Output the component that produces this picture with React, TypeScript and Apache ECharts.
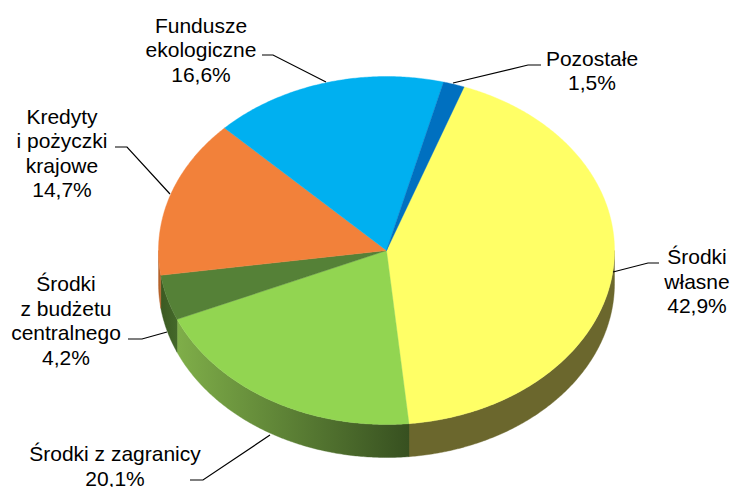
import React, { useEffect, useRef } from "react";
import * as echarts from "echarts";

const names = ["Środki\nwłasne", "Środki z zagranicy", "Środki\nz budżetu\ncentralnego", "Kredyty\ni pożyczki\nkrajowe", "Fundusze\nekologiczne", "Pozostałe"];
const values = [42.9, 20.1, 4.2, 14.7, 16.6, 1.5];
const topColors = ["#ffff66", "#92d551", "#558137", "#f2813a", "#00b0f0", "#0070c0"];
const wallStops = [
  ["#6b672d", "#6b672d"],
  ["#7fae49", "#375020"],
  ["#3b5a22", "#44682a"],
  ["#b5622a", "#b5622a"],
  ["#007aa8", "#007aa8"],
  ["#004f88", "#004f88"],
];
const labelX = [697, 115, 66, 62, 201, 592];
const labelY = [281, 466, 320.5, 153, 49.5, 70.5];
const leaders = [
  [[659, 263], [648, 263], [613, 272]],
  [[190, 480], [203, 480], [270, 435]],
  [[128, 339], [142, 339], [167, 332]],
  [[115, 147], [127, 147], [170, 194]],
  [[262, 55], [273, 55], [326, 82]],
  [[541, 65], [528, 65], [453, 83]],
];

const CX = 386.5;
const CY = 250.5;
const RX = 228;
const RY = 174;
const DEPTH = 33;
const START_DEG = 19.9;

const sliceAngles = (index: number) => {
  let acc = START_DEG;
  for (let i = 0; i < index; i++) acc += (values[i] / 100) * 360;
  return [acc, acc + (values[index] / 100) * 360];
};
const pt = (deg: number, dy = 0) => {
  const r = (deg * Math.PI) / 180;
  return [CX + RX * Math.sin(r), CY - RY * Math.cos(r) + dy];
};
const arc = (a: number, b: number, dy = 0) => {
  const pts: number[][] = [];
  const n = Math.max(2, Math.ceil(Math.abs(b - a) * 2));
  for (let i = 0; i <= n; i++) pts.push(pt(a + ((b - a) * i) / n, dy));
  return pts;
};

const renderWall = (params: any) => {
  const i = params.dataIndex;
  const [a0, a1] = sliceAngles(i);
  const a = Math.max(a0, 90);
  const b = Math.min(a1, 270);
  if (b <= a) return { type: "group", children: [] };
  const top = arc(a, b);
  const bottom = arc(b, a, DEPTH);
  const xs = top.map((p) => p[0]);
  const x0 = Math.min(...xs);
  const x1 = Math.max(...xs);
  const fill = new echarts.graphic.LinearGradient(
    x0, 0, x1, 0,
    [
      { offset: 0, color: wallStops[i][0] },
      { offset: 1, color: wallStops[i][1] },
    ],
    true
  );
  return {
    type: "polygon",
    shape: { points: [...top, ...bottom] },
    style: { fill, stroke: fill, lineWidth: 0.4 },
  };
};

const renderTop = (params: any) => {
  const i = params.dataIndex;
  const [a0, a1] = sliceAngles(i);
  return {
    type: "polygon",
    shape: { points: [[CX, CY], ...arc(a0, a1)] },
    style: { fill: topColors[i], stroke: topColors[i], lineWidth: 0.4 },
  };
};

const TEXT_FONT = '21px "Liberation Sans", Arial, sans-serif';

export default function App() {
  const ref = useRef<HTMLDivElement>(null);
  useEffect(() => {
    document.body.style.margin = "0";
    const chart = echarts.init(ref.current!, null, { renderer: "svg" });
    const data = values.map((v) => [v]);
    chart.setOption({
      animation: false,
      backgroundColor: "#ffffff",
      series: [
        { type: "custom", coordinateSystem: "none", renderItem: renderWall, data, z: 1, silent: true },
        { type: "custom", coordinateSystem: "none", renderItem: renderTop, data, z: 2, silent: true },
      ],
      graphic: [
        ...leaders.map((points) => ({
          type: "polyline",
          z: 5,
          shape: { points },
          style: { stroke: "#000000", lineWidth: 1.2, fill: "none" },
        })),
        ...names.map((name, i) => ({
          type: "text",
          z: 6,
          x: labelX[i],
          y: labelY[i],
          style: {
            text: `${name}\n${values[i].toFixed(1).replace(".", ",")}%`,
            font: TEXT_FONT,
            fill: "#000000",
            align: "center",
            verticalAlign: "middle",
            lineHeight: 24.5,
          },
        })),
      ],
    });
    return () => chart.dispose();
  }, []);
  return <div ref={ref} style={{ width: 731, height: 487 }} />;
}
